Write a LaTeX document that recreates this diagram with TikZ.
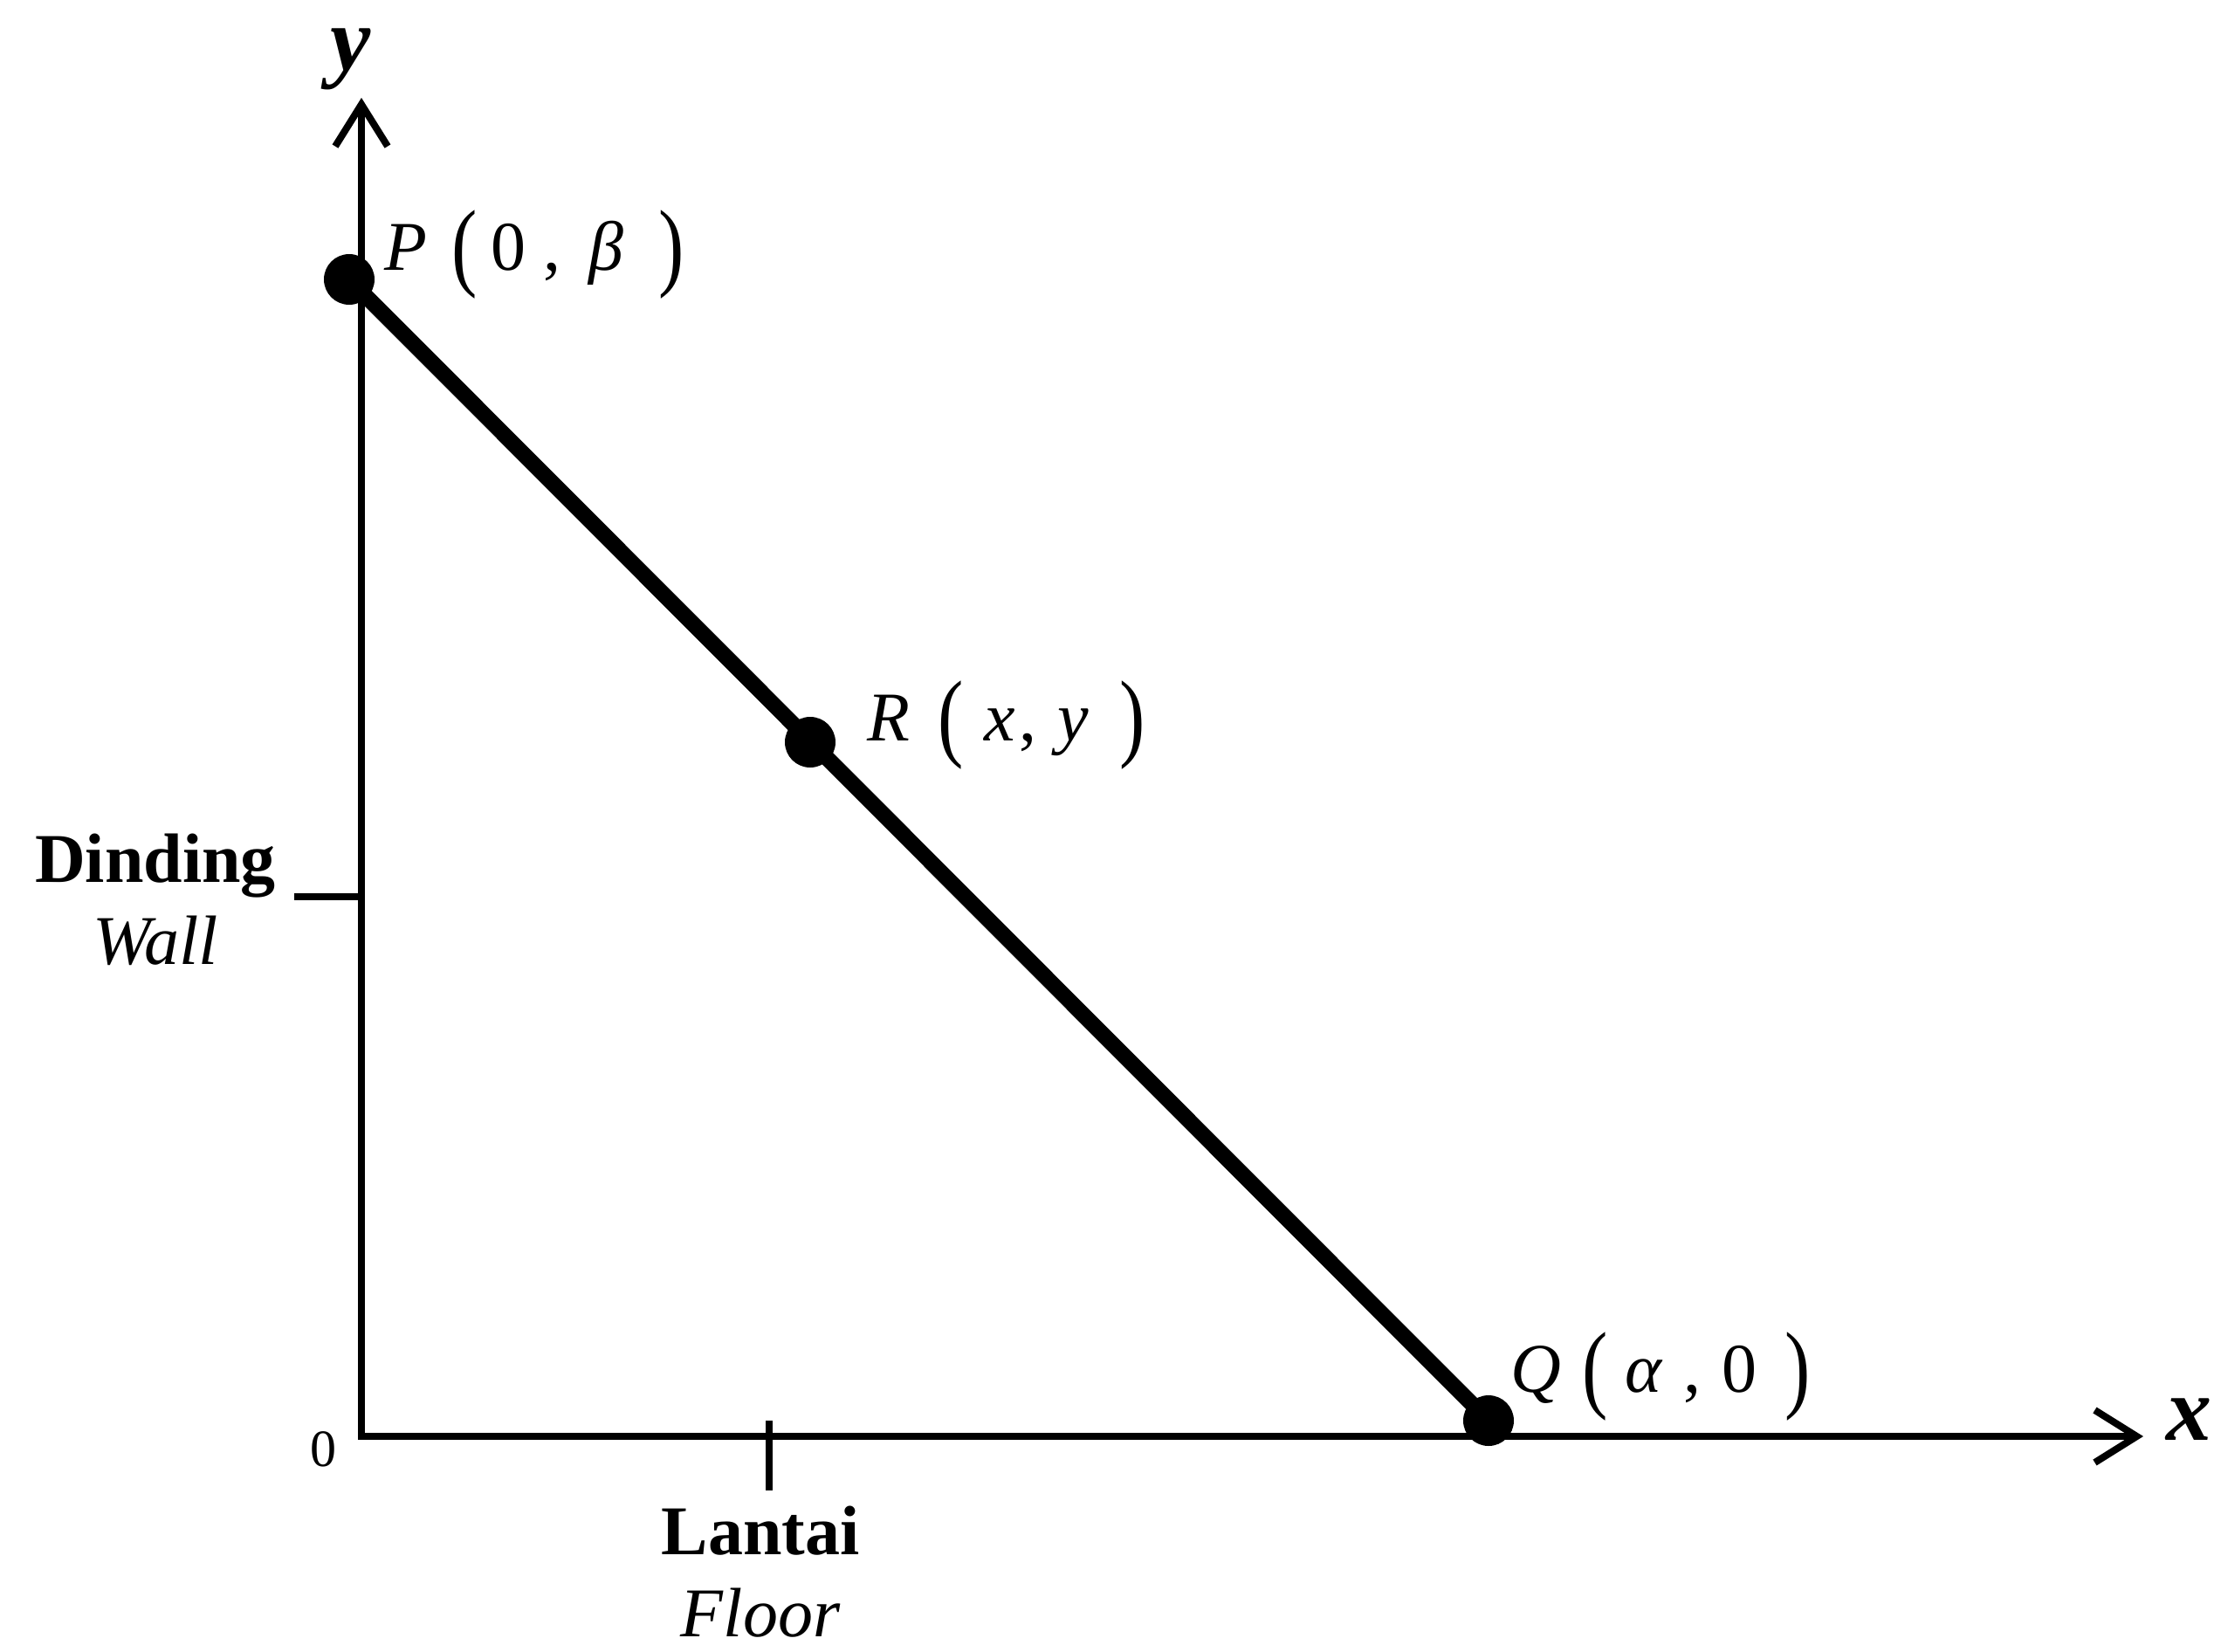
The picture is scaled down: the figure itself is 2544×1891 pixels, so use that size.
\documentclass[tikz,border=0pt]{standalone}
\usepackage{fontspec}
\setmainfont{Liberation Serif}
\usetikzlibrary{arrows.meta}
\newcommand{\tallp}[1]{\raisebox{-0.12em}{\scalebox{1.1}[1.4]{#1}}}
\begin{document}
\begin{tikzpicture}[x=0.5pt,y=-0.5pt,
  >={Straight Barb[length=24pt,width=30pt]},
  axis/.style={line width=4pt, line join=miter},
  beam/.style={line width=9pt},
  dot/.style={circle, fill=black, inner sep=0pt, minimum size=29pt},
  coordlbl/.style={inner sep=0pt, font=\fontsize{40}{48}\selectfont},
  axislbl/.style={inner sep=0pt, font=\fontsize{52}{60}\selectfont\bfseries\itshape},
  ticklbl/.style={inner sep=0pt, align=center, font=\fontsize{40}{47}\selectfont}]
\useasboundingbox (0,0) rectangle (2544,1891);
\fill[white] (0,0) rectangle (2544,1891);
% axes
\coordinate (O) at (414,1645);
\coordinate (ytip) at (414,112);
\coordinate (xtip) at (2455,1645);
\draw[axis, <->] (ytip) -- (O) -- (xtip);
% ticks
\coordinate (wt1) at (337,1027);
\coordinate (wt2) at (414,1027);
\coordinate (ft1) at (881,1627);
\coordinate (ft2) at (881,1707);
\draw[axis] (wt1) -- (wt2);
\draw[axis] (ft1) -- (ft2);
% beam and points
\node[dot] (P) at (400,320) {};
\node[dot] (R) at (928,850) {};
\node[dot] (Q) at (1705,1627) {};
\draw[beam] (P.center) -- (Q.center);
% labels
\node[coordlbl, anchor=west] (Plab) at (440,292) {\textit{P}\hspace{0.35em}\tallp{(}\hspace{0.2em}0\hspace{0.25em},\hspace{0.4em}\textit{β}\hspace{0.5em}\tallp{)}};
\node[coordlbl, anchor=west] (Rlab) at (993,831) {\textit{R}\hspace{0.4em}\tallp{(}\hspace{0.3em}\textit{x}\hspace{0.05em},\hspace{0.3em}\textit{y}\hspace{0.45em}\tallp{)}};
\node[coordlbl, anchor=west] (Qlab) at (1730,1577) {\textit{Q}\hspace{0.3em}\tallp{(}\hspace{0.25em}\textit{α}\hspace{0.3em},\hspace{0.3em}0\hspace{0.4em}\tallp{)}};
\node[axislbl] (ylab) at (402,68) {y};
\node[axislbl] (xlab) at (2507,1626) {x};
\node[inner sep=0pt, font=\fontsize{30}{36}\selectfont] (zero) at (370,1660) {0};
\node[ticklbl] (wall) at (178,1030) {{\bfseries Dinding}\\{\itshape Wall}};
\node[ticklbl] (floor) at (871,1800) {{\bfseries Lantai}\\{\itshape Floor}};
\end{tikzpicture}
\end{document}
